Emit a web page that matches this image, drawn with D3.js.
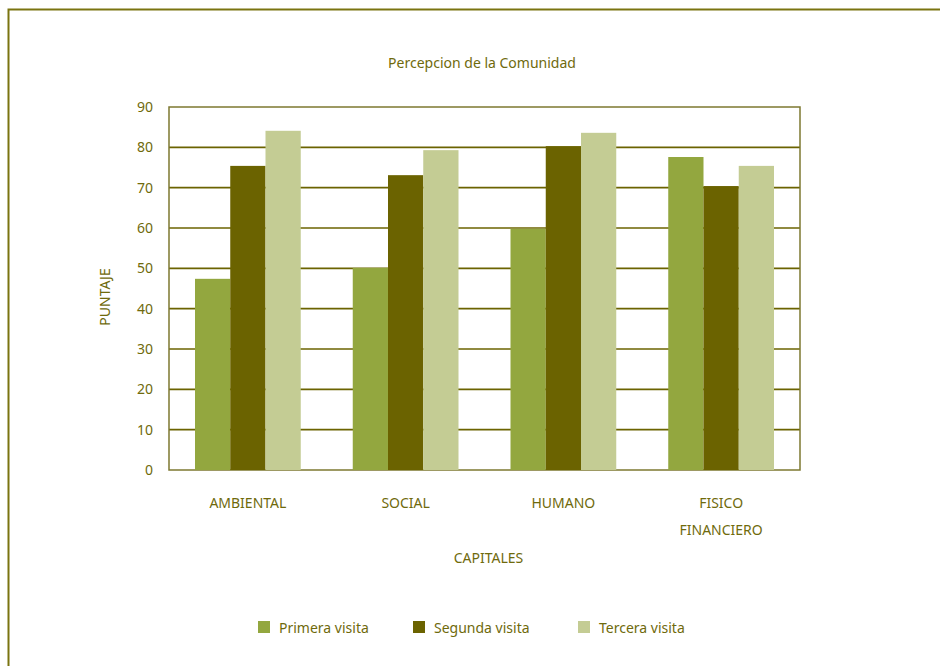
<!DOCTYPE html>
<html>
<head>
<meta charset="utf-8">
<script src="https://cdn.jsdelivr.net/npm/d3@7"></script>
<style>
body { margin: 0; background: #fff; }
text { font-family: "Noto Sans", sans-serif; fill: #6f6a0c; }
</style>
</head>
<body>
<div id="chart"></div>
<script>
let categories = ["AMBIENTAL", "SOCIAL", "HUMANO", "FISICO FINANCIERO"];
let seriesNames = ["Primera visita", "Segunda visita", "Tercera visita"];
let primera = [47.4, 50.1, 59.8, 77.6];
let segunda = [75.4, 73.1, 80.3, 70.4];
let tercera = [84.1, 79.3, 83.6, 75.4];
let yTicks = [0, 10, 20, 30, 40, 50, 60, 70, 80, 90];
let colors = ["#93a73f", "#6b6300", "#c4cc94"];

let svgWidth = 940;
let svgHeight = 666;
let margin = { top: 107, right: 140, bottom: 196, left: 169 };
let width = svgWidth - margin.left - margin.right;
let height = svgHeight - margin.top - margin.bottom;

let svg = d3.select("#chart")
  .append("svg")
  .attr("width", svgWidth)
  .attr("height", svgHeight);

// outer frame
svg.append("rect")
  .attr("x", 8.5).attr("y", 9.5)
  .attr("width", 960).attr("height", 700)
  .attr("fill", "none")
  .attr("stroke", "#7a7410")
  .attr("stroke-width", 2);

svg.append("text")
  .attr("x", 482).attr("y", 68)
  .attr("text-anchor", "middle")
  .style("font-size", "14px")
  .text("Percepcion de la Comunidad");

let chartGroup = svg.append("g")
  .attr("transform", `translate(${margin.left}, ${margin.top})`);

let data = categories.map((c, i) => ({ cat: c, vals: [primera[i], segunda[i], tercera[i]] }));

let x0 = d3.scaleBand().domain(categories).range([0, width]);
let x1 = d3.scaleBand().domain(seriesNames).range([26, x0.bandwidth() - 26]);
let y = d3.scaleLinear().domain([0, 90]).range([height, 0]);

// gridlines
chartGroup.append("g")
  .selectAll("line")
  .data(yTicks.filter(d => d > 0 && d < 90))
  .enter()
  .append("line")
  .attr("x1", 0).attr("x2", width)
  .attr("y1", d => y(d)).attr("y2", d => y(d))
  .attr("stroke", "#6b6300")
  .attr("stroke-width", 1.6);

// plot border
chartGroup.append("rect")
  .attr("x", 0).attr("y", 0)
  .attr("width", width).attr("height", height)
  .attr("fill", "none")
  .attr("stroke", "#7d7830")
  .attr("stroke-width", 1.5);

// bars
let groups = chartGroup.selectAll(".grp")
  .data(data)
  .enter()
  .append("g")
  .attr("transform", d => `translate(${x0(d.cat)},0)`);

groups.selectAll("rect")
  .data(d => d.vals.map((v, i) => ({ name: seriesNames[i], v: v, i: i })))
  .enter()
  .append("rect")
  .attr("x", d => x1(d.name))
  .attr("width", x1.bandwidth())
  .attr("y", d => y(d.v))
  .attr("height", d => height - y(d.v))
  .attr("fill", d => colors[d.i]);

// y axis
let leftAxis = d3.axisLeft(y).tickValues(yTicks).tickSize(0).tickPadding(16);
let yAxis = chartGroup.append("g").call(leftAxis);
yAxis.select(".domain").remove();
yAxis.selectAll("text").style("font-size", "14px").attr("fill", null);

// x axis labels
let xLabels = chartGroup.append("g");
data.forEach(d => {
  let words = d.cat === "FISICO FINANCIERO" ? ["FISICO", "FINANCIERO"] : [d.cat];
  words.forEach((w, k) => {
    xLabels.append("text")
      .attr("x", x0(d.cat) + x0.bandwidth() / 2)
      .attr("y", height + 38 + k * 27)
      .attr("text-anchor", "middle")
      .style("font-size", "14px")
      .text(w);
  });
});

chartGroup.append("text")
  .attr("x", width / 2 + 4)
  .attr("y", height + 93)
  .attr("text-anchor", "middle")
  .style("font-size", "14px")
  .text("CAPITALES");

chartGroup.append("text")
  .attr("transform", "rotate(-90)")
  .attr("x", -(297 - margin.top))
  .attr("y", -59)
  .attr("text-anchor", "middle")
  .style("font-size", "14px")
  .text("PUNTAJE");

// legend
let legendX = [258, 413, 578];
let legend = svg.append("g")
  .selectAll("g")
  .data(seriesNames)
  .enter()
  .append("g")
  .attr("transform", (d, i) => `translate(${legendX[i]}, 621)`);

legend.append("rect")
  .attr("width", 12).attr("height", 12)
  .attr("fill", (d, i) => colors[i]);

legend.append("text")
  .attr("x", 21).attr("y", 12)
  .style("font-size", "14px")
  .text(d => d);
</script>
</body>
</html>
